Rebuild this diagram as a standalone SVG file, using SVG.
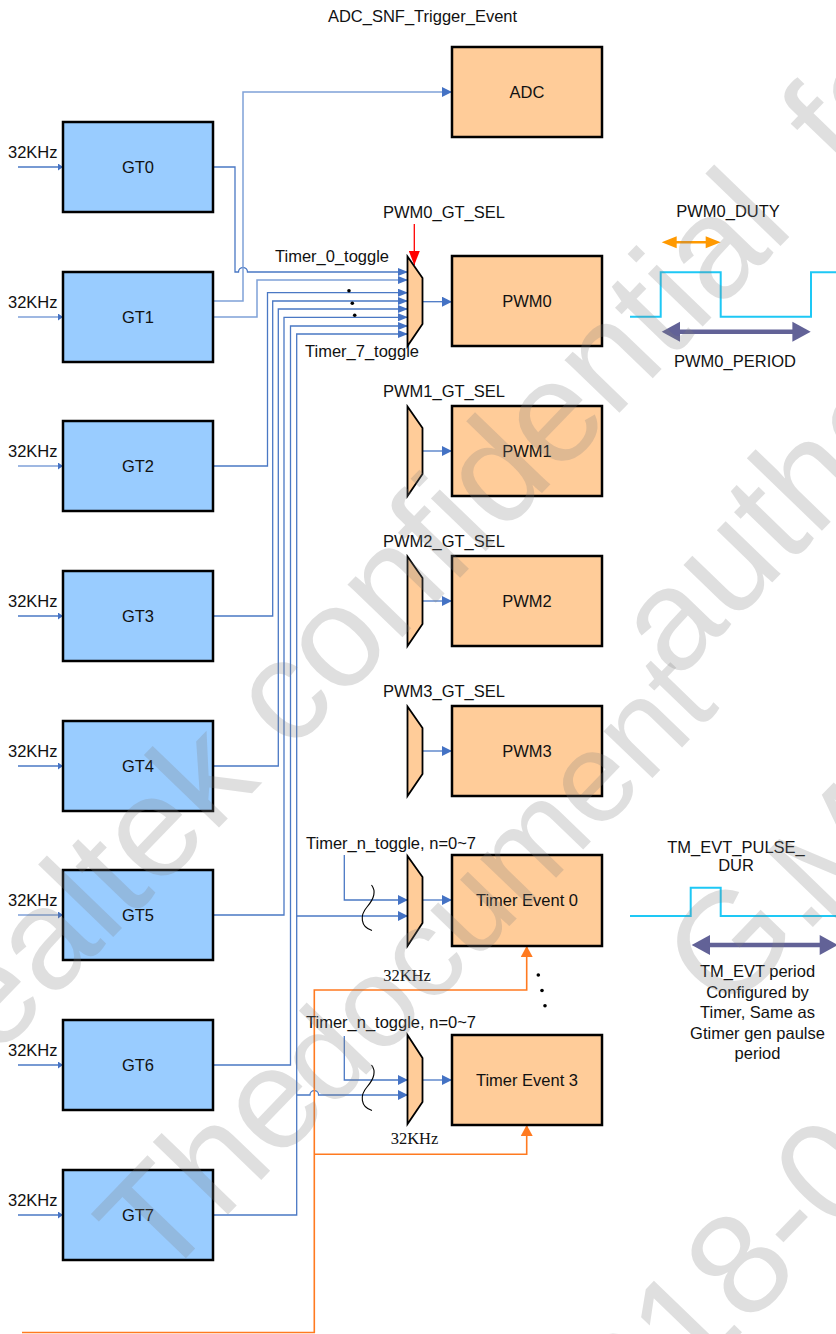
<svg xmlns="http://www.w3.org/2000/svg" width="836" height="1334" viewBox="0 0 836 1334">
<defs>
<style>
text{font-family:"Liberation Sans",Arial,sans-serif;font-size:16.5px;fill:#111}
.ser{font-family:"Liberation Serif","Times New Roman",serif}
.c{text-anchor:middle}
.gt{fill:#99CCFF;stroke:#000;stroke-width:2.5}
.ob{fill:#FFCC99;stroke:#000;stroke-width:2.5}
.mux{fill:#FFCC99;stroke:#000;stroke-width:1.8}
.w{fill:none;stroke:#4A78C4;stroke-width:1.3}
.wl{fill:none;stroke:#7FA1D8;stroke-width:1.5}
.or{fill:none;stroke:#FF7A20;stroke-width:1.6}
.cy{fill:none;stroke:#1EC8F5;stroke-width:2}
.sq{fill:none;stroke:#000;stroke-width:1.1}
.wm{font-family:"Liberation Sans",Arial,sans-serif;font-size:144px;fill:#7f7f7f;fill-opacity:.25}
</style>
<marker id="ab" viewBox="0 0 10 10" markerWidth="10" markerHeight="10" refX="10" refY="5" orient="auto" markerUnits="userSpaceOnUse"><path d="M0,0L10,5L0,10z" fill="#4472C4"/></marker>
<marker id="as" viewBox="0 0 10 8" markerWidth="10" markerHeight="8" refX="10" refY="4" orient="auto" markerUnits="userSpaceOnUse"><path d="M0,0L10,4L0,8z" fill="#4472C4"/></marker>
<marker id="ai" viewBox="0 0 5 7" markerWidth="5" markerHeight="7" refX="5" refY="3.5" orient="auto" markerUnits="userSpaceOnUse"><path d="M0,0L5,3.5L0,7z" fill="#4472C4"/></marker>
<marker id="ao" viewBox="0 0 11 12" markerWidth="11" markerHeight="12" refX="11" refY="6" orient="auto" markerUnits="userSpaceOnUse"><path d="M0,0L11,6L0,12z" fill="#FF7A20"/></marker>
<marker id="ar" viewBox="0 0 14 11" markerWidth="14" markerHeight="11" refX="14" refY="5.5" orient="auto" markerUnits="userSpaceOnUse"><path d="M0,0L14,5.5L0,11z" fill="#FF0000"/></marker>
</defs>
<rect width="836" height="1334" fill="#fff"/>

<g id="connectors">
<path class="w" d="M18,167H63" marker-end="url(#ai)"/>
<path class="wl" d="M18,317H63" marker-end="url(#ai)"/>
<path class="wl" d="M18,466H63" marker-end="url(#ai)"/>
<path class="w" d="M18,616H63" marker-end="url(#ai)"/>
<path class="w" d="M18,766H63" marker-end="url(#ai)"/>
<path class="wl" d="M18,915H63" marker-end="url(#ai)"/>
<path class="w" d="M18,1065H63" marker-end="url(#ai)"/>
<path class="w" d="M18,1215H63" marker-end="url(#ai)"/>

<path class="w" d="M213,167H235V272H238.5A4.5,4.5 0 0 1 247.5,272H408" marker-end="url(#as)"/>
<path class="wl" d="M213,301H243V92H452" marker-end="url(#ab)"/>
<path class="wl" d="M213,317H257V280H408" marker-end="url(#as)"/>
<path class="w" d="M213,466H267.5V292.7H408" marker-end="url(#as)"/>
<path class="w" d="M213,616H272.7V301H408" marker-end="url(#as)"/>
<path class="w" d="M213,766H278.3V309H408" marker-end="url(#as)"/>
<path class="w" d="M213,915H284V317.3H408" marker-end="url(#as)"/>
<path class="w" d="M213,1065H290.5V326H408" marker-end="url(#as)"/>
<path class="w" d="M213,1215H296.7V334H408" marker-end="url(#as)"/>

<path class="w" d="M296.7,916H408" marker-end="url(#ab)"/>
<path class="w" d="M296.7,1095H310A4.3,4.3 0 0 1 318.6,1095H408" marker-end="url(#ab)"/>
<path class="w" d="M344.3,855V900H408" marker-end="url(#ab)"/>
<path class="w" d="M344.3,1036V1080H408" marker-end="url(#ab)"/>

<path class="w" d="M422.5,301.7H452" marker-end="url(#ab)"/>
<path class="w" d="M422.5,451H452" marker-end="url(#ab)"/>
<path class="w" d="M422.5,601H452" marker-end="url(#ab)"/>
<path class="w" d="M422.5,751H452" marker-end="url(#ab)"/>
<path class="w" d="M422.5,900H452" marker-end="url(#ab)"/>
<path class="w" d="M422.5,1080H452" marker-end="url(#ab)"/>

<path class="or" d="M22,1332.5H314.3V990H526.7V946" marker-end="url(#ao)"/>
<path class="or" d="M314.3,1154.3H526.7V1125" marker-end="url(#ao)"/>

<path d="M414.3,224V265" fill="none" stroke="#FF0000" stroke-width="1.3" marker-end="url(#ar)"/>

<path class="sq" d="M371.5,885C377,892 373,900 367,907C360,915 360,927 372,930.5"/>
<path class="sq" d="M371.5,1065C377,1072 373,1080 367,1087C360,1095 360,1107 372,1110.5"/>

<g fill="#000">
<circle cx="349" cy="290.7" r="1.8"/><circle cx="352.3" cy="303.3" r="1.8"/><circle cx="354.7" cy="315.3" r="1.8"/>
<circle cx="538.3" cy="975" r="1.8"/><circle cx="542" cy="990.5" r="1.8"/><circle cx="545" cy="1005.7" r="1.8"/>
</g>
</g>

<g id="gt0"><rect class="gt" x="63" y="122" width="150" height="90"/><text class="c" x="138" y="173">GT0</text><text x="8" y="157.5">32KHz</text></g>
<g id="gt1"><rect class="gt" x="63" y="272" width="150" height="90"/><text class="c" x="138" y="323">GT1</text><text x="8" y="307.5">32KHz</text></g>
<g id="gt2"><rect class="gt" x="63" y="421" width="150" height="90"/><text class="c" x="138" y="472">GT2</text><text x="8" y="456.5">32KHz</text></g>
<g id="gt3"><rect class="gt" x="63" y="571" width="150" height="90"/><text class="c" x="138" y="622">GT3</text><text x="8" y="606.5">32KHz</text></g>
<g id="gt4"><rect class="gt" x="63" y="721" width="150" height="90"/><text class="c" x="138" y="772">GT4</text><text x="8" y="756.5">32KHz</text></g>
<g id="gt5"><rect class="gt" x="63" y="870" width="150" height="90"/><text class="c" x="138" y="921">GT5</text><text x="8" y="905.5">32KHz</text></g>
<g id="gt6"><rect class="gt" x="63" y="1020" width="150" height="90"/><text class="c" x="138" y="1071">GT6</text><text x="8" y="1055.5">32KHz</text></g>
<g id="gt7"><rect class="gt" x="63" y="1170" width="150" height="90"/><text class="c" x="138" y="1221">GT7</text><text x="8" y="1205.5">32KHz</text></g>

<g id="adc"><text class="c" x="422.5" y="21.7">ADC_SNF_Trigger_Event</text><rect class="ob" x="452" y="47" width="150" height="90"/><text class="c" x="527" y="97.5">ADC</text></g>

<g id="pwm0">
<text x="383" y="218">PWM0_GT_SEL</text>
<text x="275" y="262">Timer_0_toggle</text>
<text x="305" y="357">Timer_7_toggle</text>
<polygon class="mux" points="407.5,256.5 422.5,278 422.5,324 407.5,346"/>
<rect class="ob" x="452" y="256" width="150" height="90"/><text class="c" x="527" y="307">PWM0</text>
</g>
<g id="pwm1">
<text x="383" y="397">PWM1_GT_SEL</text>
<polygon class="mux" points="407.5,406.5 422.5,428 422.5,474 407.5,496"/>
<rect class="ob" x="452" y="406" width="150" height="90"/><text class="c" x="527" y="457">PWM1</text>
</g>
<g id="pwm2">
<text x="383" y="547">PWM2_GT_SEL</text>
<polygon class="mux" points="407.5,556.5 422.5,578 422.5,624 407.5,646"/>
<rect class="ob" x="452" y="556" width="150" height="90"/><text class="c" x="527" y="607">PWM2</text>
</g>
<g id="pwm3">
<text x="383" y="697">PWM3_GT_SEL</text>
<polygon class="mux" points="407.5,706.5 422.5,728 422.5,774 407.5,796"/>
<rect class="ob" x="452" y="706" width="150" height="90"/><text class="c" x="527" y="757">PWM3</text>
</g>

<g id="tev0">
<text x="306" y="849">Timer_n_toggle, n=0~7</text>
<polygon class="mux" points="407.5,856 422.5,877 422.5,923 407.5,946"/>
<text class="ser c" x="407" y="981">32KHz</text>
<rect class="ob" x="452" y="855" width="150" height="91"/><text class="c" x="527" y="906">Timer Event 0</text>
</g>
<g id="tev3">
<text x="306" y="1028">Timer_n_toggle, n=0~7</text>
<polygon class="mux" points="407.5,1035 422.5,1058 422.5,1102 407.5,1124"/>
<text class="ser c" x="414.5" y="1144">32KHz</text>
<rect class="ob" x="452" y="1035" width="150" height="90"/><text class="c" x="527" y="1086">Timer Event 3</text>
</g>

<g id="pwm0-wave">
<text class="c" x="728" y="217">PWM0_DUTY</text>
<path d="M670,242.3H712" stroke="#FF9900" stroke-width="2.5"/>
<polygon points="661.7,242.3 676.7,236.3 676.7,248.3" fill="#FF9900"/>
<polygon points="720.7,242.3 705.7,236.3 705.7,248.3" fill="#FF9900"/>
<path class="cy" d="M630,316.7H660.7V272.3H720.7V316.7H811V272.3H836"/>
<path d="M675,331.7H797" stroke="#626297" stroke-width="4.5"/>
<polygon points="661.7,331.7 680,321.7 680,341.7" fill="#626297"/>
<polygon points="810.7,331.7 792.4,321.7 792.4,341.7" fill="#626297"/>
<text class="c" x="735" y="367">PWM0_PERIOD</text>
</g>

<g id="tm-evt-wave">
<text class="c" x="736" y="853">TM_EVT_PULSE_</text>
<text class="c" x="736" y="870.5">DUR</text>
<path class="cy" d="M630,916H690.7V887.7H720.7V916H836"/>
<path d="M705,945H825" stroke="#626297" stroke-width="4.5"/>
<polygon points="691.7,945 710,935 710,955" fill="#626297"/>
<polygon points="838,945 819.7,935 819.7,955" fill="#626297"/>
<text class="c" x="757.5" y="977">TM_EVT period</text>
<text class="c" x="757.5" y="997.5">Configured by</text>
<text class="c" x="757.5" y="1018">Timer, Same as</text>
<text class="c" x="757.5" y="1038.5">Gtimer gen paulse</text>
<text class="c" x="757.5" y="1059">period</text>
</g>

<g id="watermark">
<text class="wm" transform="translate(-77,1134) rotate(-46)">Realtek confidential</text>
<text class="wm" transform="translate(844,178) rotate(-46)">for</text>
<text class="wm" transform="translate(160,1285) rotate(-46)">The</text>
<text class="wm" transform="translate(330,1112) rotate(-46)" style="font-size:128px">document</text>
<text class="wm" transform="translate(676,682) rotate(-46)">authorized</text>
<text class="wm" transform="translate(726,1017) rotate(-46)">G.</text>
<text class="wm" transform="translate(830,929) rotate(-46)">M</text>
<text class="wm" transform="translate(580,1500) rotate(-46)">2018-0</text>
</g>
</svg>
